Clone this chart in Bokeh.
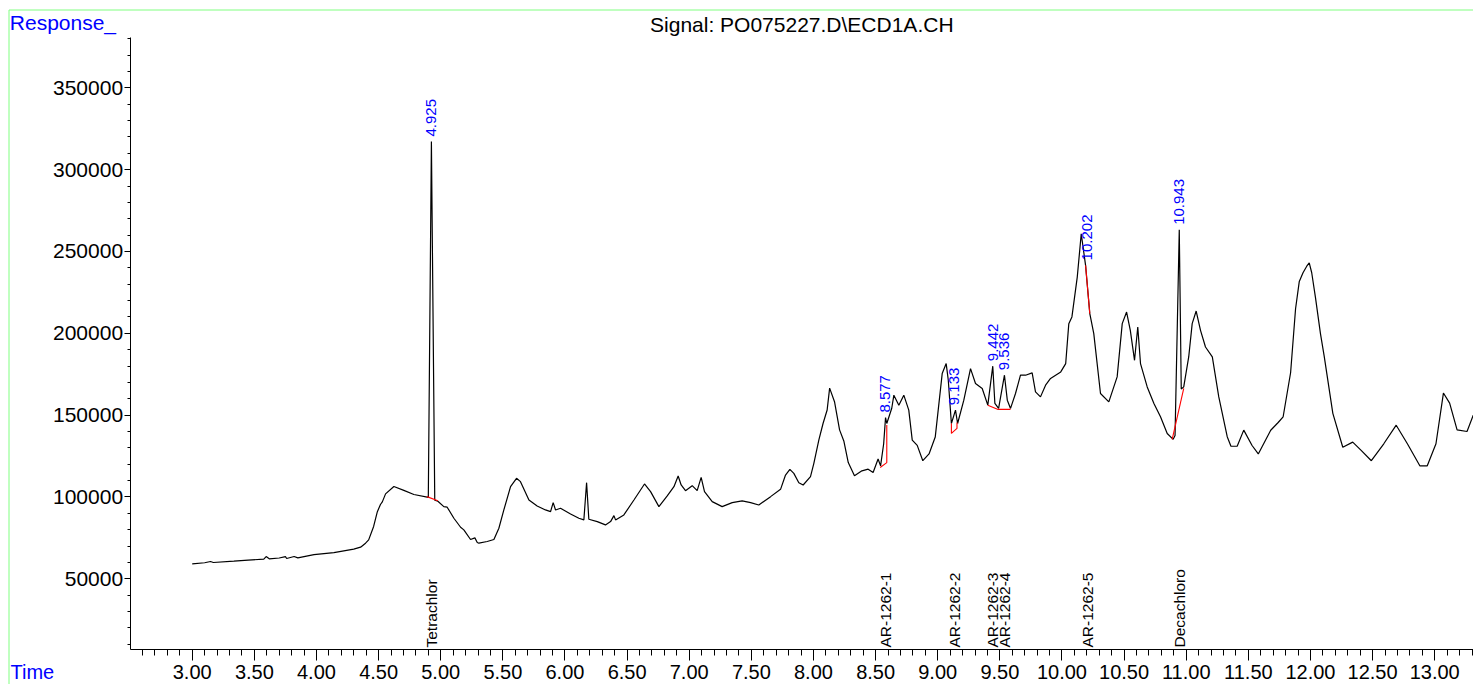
import math
from bokeh.plotting import figure
from bokeh.models import Range1d, FixedTicker, NumeralTickFormatter, Label
from bokeh.core.properties import value
from bokeh.embed import file_html
from bokeh.resources import INLINE

# ---- data ----
time_min = [3.00, 3.10, 3.147, 3.17, 3.335, 3.45, 3.576, 3.595, 3.62, 3.70, 3.75, 3.76, 3.82, 3.85,
            3.98, 4.14, 4.30, 4.355, 4.395, 4.42, 4.46, 4.49, 4.515, 4.53, 4.556, 4.623, 4.703, 4.784,
            4.891, 4.90, 4.925, 4.952, 4.977, 5.025, 5.052, 5.106, 5.16, 5.186, 5.24, 5.275, 5.294,
            5.307, 5.374, 5.428, 5.468, 5.508, 5.562, 5.61, 5.642, 5.71, 5.776, 5.843, 5.884, 5.905,
            5.924, 5.964, 6.045, 6.112, 6.152, 6.174, 6.192, 6.26, 6.326, 6.367, 6.394, 6.407, 6.474,
            6.555, 6.64, 6.689, 6.756, 6.823, 6.877, 6.911, 6.935, 6.97, 7.024, 7.064, 7.096, 7.123,
            7.185, 7.265, 7.346, 7.426, 7.494, 7.56, 7.655, 7.735, 7.775, 7.81, 7.842, 7.882, 7.917,
            7.976, 8.003, 8.043, 8.077, 8.11, 8.13, 8.17, 8.21, 8.245, 8.28, 8.33, 8.39, 8.44, 8.48,
            8.52, 8.54, 8.565, 8.58, 8.59, 8.63, 8.647, 8.687, 8.727, 8.767, 8.795, 8.835, 8.88, 8.93,
            8.98, 9.036, 9.068, 9.085, 9.11, 9.143, 9.16, 9.21, 9.264, 9.304, 9.358, 9.403, 9.443,
            9.46, 9.49, 9.537, 9.56, 9.586, 9.626, 9.666, 9.707, 9.76, 9.787, 9.827, 9.868, 9.908,
            9.99, 10.03, 10.055, 10.08, 10.123, 10.155, 10.19, 10.224, 10.256, 10.31, 10.377, 10.444,
            10.485, 10.52, 10.55, 10.584, 10.61, 10.632, 10.686, 10.74, 10.793, 10.847, 10.895, 10.91,
            10.944, 10.96, 10.98, 11.02, 11.048, 11.08, 11.115, 11.155, 11.21, 11.262, 11.33, 11.36,
            11.41, 11.463, 11.53, 11.58, 11.68, 11.74, 11.78, 11.84, 11.88, 11.91, 11.94, 11.97, 11.99,
            12.01, 12.04, 12.08, 12.11, 12.18, 12.26,
            12.34, 12.41, 12.49, 12.59, 12.69, 12.78, 12.88, 12.94, 13.01, 13.07, 13.12, 13.18, 13.26,
            13.31]
response = [59150, 59800, 60550, 59950, 60790, 61400, 62010, 63600, 62200, 62700, 63600, 62400, 63600, 62800,
            64800, 66040, 68100, 69330, 71770, 73780, 82000, 91000, 95400, 97000, 101900, 106400, 104000, 101500,
            99860, 99700, 317200, 98000, 97400, 94100, 93750, 87000, 81500, 79880, 74000, 75000, 72160,
            71750, 72770, 74000, 80900, 92070, 106300, 111400, 109350, 98170, 94510, 92070, 91060, 96550,
            92070, 93090, 89640, 87000, 85980, 108740, 86380, 84960, 82930, 84960, 88620, 85980, 89030,
            98170, 107930, 103250, 94100, 100610, 106300, 112800, 107320, 103860, 106910, 103860, 112000, 103250,
            97150, 94100, 96550, 97560, 96550, 95120, 100200, 104670, 113400, 116870, 114430, 108740, 107320,
            112400, 120530, 134756, 144900, 153150, 166500, 158000, 141000, 134000, 121000, 113000, 115950, 117000, 114900,
            123200, 119000, 132500, 148500, 144900, 154200, 162200, 156100, 162200, 153050, 134750, 131500, 122150, 126300,
            136600, 175400, 181500, 171350, 144900, 153050, 144900, 159150, 178450, 169300, 166250, 156100, 179900,
            157150, 154100, 174400, 159150, 154100, 163200, 174400, 174400, 175800, 164200, 161150, 168300, 172400,
            176400, 181500, 205900, 210000, 234300, 260800, 241500, 212000, 199800, 163200, 158100, 173350,
            205900, 213000, 201800, 183500, 203850, 181500, 167250, 157100, 149000, 138800, 135200, 137500,
            263200, 166000, 167250, 185550, 205900, 213600, 201800, 191650, 185550, 161150, 136800, 131000,
            131000, 140850, 131450, 126300, 140750, 145500, 149000, 175900, 215000, 231700, 237000, 241000, 243000,
            237000, 222000, 200000, 186200, 151100, 130400,
            133500, 128350, 122150, 132500, 143850, 132500, 119050, 119050, 132500, 163500, 157300, 141000, 140000,
            150000]

# integration baselines (red)
base_t = [[4.889, 4.977], [8.537, 8.59, 8.59], [9.11, 9.11, 9.155, 9.155],
          [9.403, 9.486, 9.586], [10.19, 10.224], [10.887, 10.98]]
base_v = [[100200, 97750], [118000, 121000, 144000], [144900, 138800, 141900, 145500],
          [156100, 153500, 153500], [241500, 212000], [135200, 166300]]

peak_rt = [4.925, 8.577, 9.133, 9.442, 9.536, 10.202, 10.943]
peak_rt_labels = ["4.925", "8.577", "9.133", "9.442", "9.536", "10.202", "10.943"]
peak_height = [317200, 148500, 153000, 179900, 174400, 241500, 263200]
compound_names = ["Tetrachlor", "AR-1262-1", "AR-1262-2", "AR-1262-3", "AR-1262-4", "AR-1262-5", "Decachloro"]

x_major = [3.0, 3.5, 4.0, 4.5, 5.0, 5.5, 6.0, 6.5, 7.0, 7.5, 8.0, 8.5, 9.0, 9.5, 10.0, 10.5,
           11.0, 11.5, 12.0, 12.5, 13.0]
y_major = [50000, 100000, 150000, 200000, 250000, 300000, 350000]

# ---- layout helpers (page pixel -> data coordinate) ----
W, H = 1473, 684
KX = 124.25            # px per minute
KY = 491.0 / 300000.0  # px per response unit


def t_at(px):
    return 2.5 + (px - 129.6) / KX


def v_at(py):
    return 50000 + (578.3 - py) / KY


FONT = "Liberation Sans"
BLUE = "#0000ff"

p = figure(width=W, height=H, output_backend="svg", toolbar_location=None, title=None,
           x_range=Range1d(t_at(0), t_at(W)), y_range=Range1d(v_at(H), v_at(0)),
           min_border=0, min_border_left=0, min_border_right=0, min_border_top=0, min_border_bottom=0,
           background_fill_color="white", border_fill_color="white")
p.outline_line_color = None
p.grid.visible = False

x_lo, x_hi = 2.5, t_at(W)
y_lo, y_hi = v_at(649), v_at(37)

# x axis
xa = p.xaxis[0]
xa.fixed_location = y_lo
xa.bounds = (x_lo, x_hi)
xa.ticker = FixedTicker(ticks=x_major, minor_ticks=[round(2.6 + 0.1 * i, 2) for i in range(108)])
xa.formatter = NumeralTickFormatter(format="0.00")
xa.major_tick_out = 11
xa.major_tick_in = 0
xa.minor_tick_out = 6
xa.minor_tick_in = 0
xa.major_label_standoff = 4
xa.major_label_text_font = FONT
xa.major_label_text_font_size = "20px"
xa.major_label_text_color = "black"
xa.axis_line_color = "black"

# y axis
ya = p.yaxis[0]
ya.fixed_location = x_lo
ya.bounds = (y_lo, y_hi)
ya.ticker = FixedTicker(ticks=y_major, minor_ticks=[10000 * i for i in range(1, 39)])
ya.formatter = NumeralTickFormatter(format="0")
ya.major_tick_out = 6
ya.major_tick_in = 0
ya.minor_tick_out = 3
ya.minor_tick_in = 0
ya.major_label_standoff = 1
ya.major_label_text_font = FONT
ya.major_label_text_font_size = "21px"
ya.major_label_text_color = "black"
ya.axis_line_color = "black"

# green page frame
p.segment(x0=[t_at(8.5), t_at(8.5)], y0=[v_at(9.5), v_at(9.5)],
          x1=[t_at(8.5), t_at(W)], y1=[v_at(H), v_at(9.5)],
          line_color="#80ff80", line_width=1)

# trace
p.line(time_min, response, line_color="black", line_width=1.2)

# baselines
p.multi_line(base_t, base_v, line_color="#ff0000", line_width=1.1)

# retention time labels
p.text(x=peak_rt, y=peak_height, text=peak_rt_labels, angle=math.pi / 2,
       text_align="left", text_baseline="middle", y_offset=-5,
       text_font=value(FONT), text_font_size="15px", text_color=BLUE)

# compound labels along the bottom
p.text(x=peak_rt, y=[y_lo] * len(peak_rt), text=compound_names, angle=math.pi / 2,
       text_align="left", text_baseline="middle", y_offset=-2,
       text_font=value(FONT), text_font_size="15.5px", text_color="black")

# titles
p.add_layout(Label(x=t_at(801.3), y=v_at(24), text="Signal: PO075227.D\\ECD1A.CH",
                   text_align="center", text_baseline="middle", text_font=FONT,
                   text_font_size="21px", text_color="black"))
p.add_layout(Label(x=t_at(9.3), y=v_at(21.5), text="Response_",
                   text_align="left", text_baseline="middle", text_font=FONT,
                   text_font_size="21px", text_color=BLUE))
p.add_layout(Label(x=t_at(10), y=v_at(671), text="Time",
                   text_align="left", text_baseline="middle", text_font=FONT,
                   text_font_size="20px", text_color=BLUE))

open("out.html", "w").write(file_html(p, INLINE))
